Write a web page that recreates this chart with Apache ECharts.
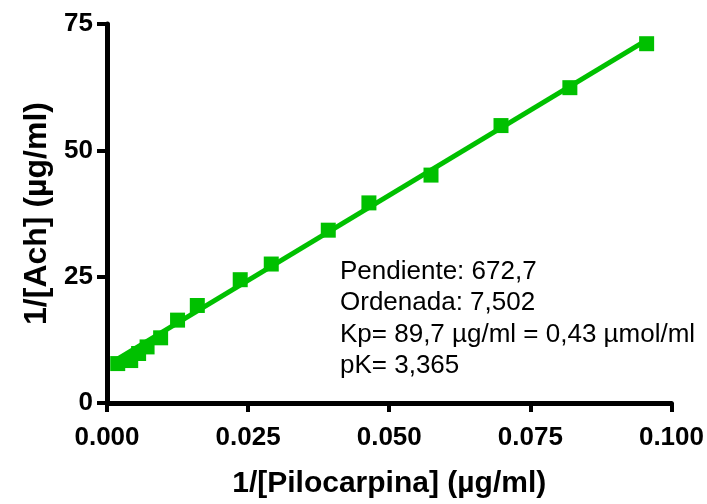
<!DOCTYPE html>
<html><head><meta charset="utf-8">
<script src="https://cdn.jsdelivr.net/npm/echarts@6/dist/echarts.min.js"></script>
<style>html,body{margin:0;padding:0;background:#fff}#c{width:707px;height:504px}</style>
</head><body><div id="c"></div>
<script>
// 1/[Pilocarpina] (µg/ml)
const xValues = [0.0019, 0.0042, 0.0056, 0.0071, 0.0095, 0.0125, 0.0160, 0.0236, 0.0291, 0.0392, 0.0464, 0.0574, 0.0698, 0.0820, 0.0956];
// 1/[Ach] (µg/ml)
const yValues = [7.8, 8.4, 9.8, 11.1, 12.9, 16.4, 19.3, 24.4, 27.5, 34.2, 39.6, 45.1, 54.9, 62.4, 71.1];
// fitted line endpoints
const fitX = [0.0017, 0.0956];
const fitY = [8.6, 71.8];
const xTicks = [0, 0.025, 0.05, 0.075, 0.1];
const yTicks = [0, 25, 50, 75];
const annotation = ['Pendiente: 672,7', 'Ordenada: 7,502', 'Kp= 89,7 µg/ml = 0,43 µmol/ml', 'pK= 3,365'];

const green = '#00c000';
const chart = echarts.init(document.getElementById('c'));
chart.setOption({
  animation: false,
  backgroundColor: '#fff',
  grid: {left: 107, right: 34, top: 24, bottom: 94, containLabel: false},
  xAxis: {
    type: 'value', min: xTicks[0], max: xTicks[xTicks.length - 1], interval: 0.025,
    name: '1/[Pilocarpina] (µg/ml)', nameLocation: 'middle', nameGap: 66,
    nameTextStyle: {fontFamily: 'Liberation Sans', fontWeight: 'bold', fontSize: 30, color: '#000'},
    axisLine: {onZero: false, lineStyle: {color: '#000', width: 5}},
    axisTick: {show: true, length: 9, lineStyle: {color: '#000', width: 4}},
    axisLabel: {fontFamily: 'Liberation Sans', fontWeight: 'bold', fontSize: 26, color: '#000', margin: 22,
      formatter: v => v.toFixed(3)},
    splitLine: {show: false}
  },
  yAxis: {
    type: 'value', min: yTicks[0], max: yTicks[yTicks.length - 1], interval: 25,
    name: '1/[Ach] (µg/ml)', nameLocation: 'middle', nameGap: 54, nameRotate: 90,
    nameTextStyle: {fontFamily: 'Liberation Sans', fontWeight: 'bold', fontSize: 32, color: '#000'},
    axisLine: {show: true, onZero: false, lineStyle: {color: '#000', width: 5}},
    axisTick: {show: true, length: 10, lineStyle: {color: '#000', width: 4}},
    axisLabel: {fontFamily: 'Liberation Sans', fontWeight: 'bold', fontSize: 26, color: '#000', margin: 14},
    splitLine: {show: false}
  },
  series: [
    {
      type: 'line', data: fitX.map((x, i) => [x, fitY[i]]), showSymbol: false, symbol: 'none',
      lineStyle: {color: green, width: 5}, silent: true, z: 2
    },
    {
      type: 'scatter', data: xValues.map((x, i) => [x, yValues[i]]), symbol: 'rect', symbolSize: 15,
      itemStyle: {color: green, opacity: 1}, z: 3
    }
  ],
  graphic: [{
    type: 'text', left: 340, top: 256,
    style: {text: annotation.join('\n'), fontFamily: 'Liberation Sans', fontSize: 26, lineHeight: 31.5, fill: '#000'}
  }]
});
</script></body></html>
